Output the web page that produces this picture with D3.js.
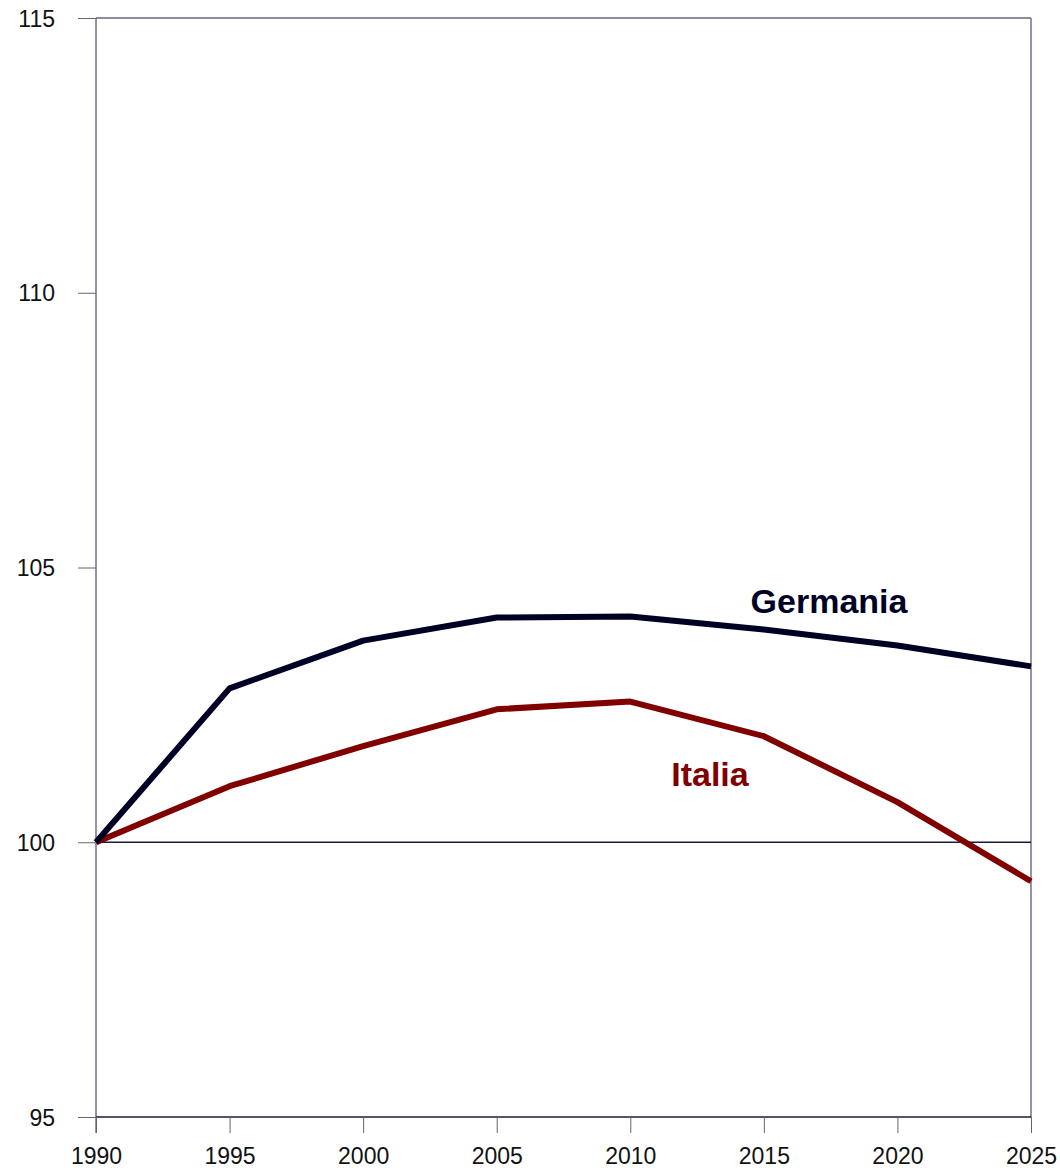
<!DOCTYPE html>
<html><head><meta charset="utf-8">
<script src="https://cdn.jsdelivr.net/npm/d3@7"></script>
<style>body{margin:0;background:#fff}svg{display:block}text{font-family:Arial,"Liberation Sans",sans-serif}</style>
</head><body>
<script>
const years = [1990, 1995, 2000, 2005, 2010, 2015, 2020, 2025];
const germania = [100, 102.8, 103.67, 104.09, 104.11, 103.87, 103.58, 103.2];
const italia = [100, 101.02, 101.75, 102.42, 102.56, 101.93, 100.73, 99.29];
const yTicks = [95, 100, 105, 110, 115];

const W = 1060, H = 1171;
const L = 96, R = 1031, T = 18, B = 1117;
const svg = d3.select("body").append("svg").attr("width", W).attr("height", H);
const x = d3.scaleLinear().domain([1990, 2025]).range([L, R]);
const y = d3.scaleLinear().domain([95, 115]).range([B, T]);
const axisCol = "#1a1a3a";

svg.append("line").attr("x1", L).attr("x2", R).attr("y1", y(115)).attr("y2", y(115)).attr("stroke", axisCol).attr("stroke-width", 1);
svg.append("line").attr("x1", R).attr("x2", R).attr("y1", T).attr("y2", B).attr("stroke", "#70708a").attr("stroke-width", 1.5);
svg.append("line").attr("x1", L).attr("x2", R).attr("y1", y(100)).attr("y2", y(100)).attr("stroke", axisCol).attr("stroke-width", 1.5);

const ya = svg.append("g").attr("transform", `translate(${L},0)`)
  .call(d3.axisLeft(y).tickValues(yTicks).tickSize(18).tickPadding(23).tickFormat(d3.format("d")));
ya.attr("font-size", null);
ya.select(".domain").attr("stroke", "#70708a").attr("stroke-width", 1.5).attr("d", `M0,${T}V${B + 16}`);
ya.selectAll(".tick line").attr("stroke", "#666");
ya.selectAll("text").style("font-size", "23px").attr("fill", "#111").attr("dy", "0.35em");

const xa = svg.append("g").attr("transform", `translate(0,${B})`)
  .call(d3.axisBottom(x).tickValues(years).tickSize(16).tickPadding(15).tickFormat(d3.format("d")));
xa.attr("font-size", null);
xa.select(".domain").attr("stroke", axisCol).attr("stroke-width", 1.5).attr("d", `M${L},0H${R}`);
xa.selectAll(".tick line").attr("stroke", "#666");
xa.selectAll("text").style("font-size", "23px").attr("fill", "#111");

const line = d3.line().x((d, i) => x(years[i])).y(d => y(d));
svg.append("path").datum(italia).attr("d", line).attr("fill", "none").attr("stroke", "#800000").attr("stroke-width", 6).attr("stroke-linejoin", "round");
svg.append("path").datum(germania).attr("d", line).attr("fill", "none").attr("stroke", "#000025").attr("stroke-width", 6).attr("stroke-linejoin", "round");

svg.append("text").attr("x", 829).attr("y", 613).attr("text-anchor", "middle").style("font-size", "34px").attr("font-weight", "bold").attr("fill", "#000025").text("Germania");
svg.append("text").attr("x", 710).attr("y", 786).attr("text-anchor", "middle").style("font-size", "34px").attr("font-weight", "bold").attr("fill", "#800000").text("Italia");
</script>
</body></html>
